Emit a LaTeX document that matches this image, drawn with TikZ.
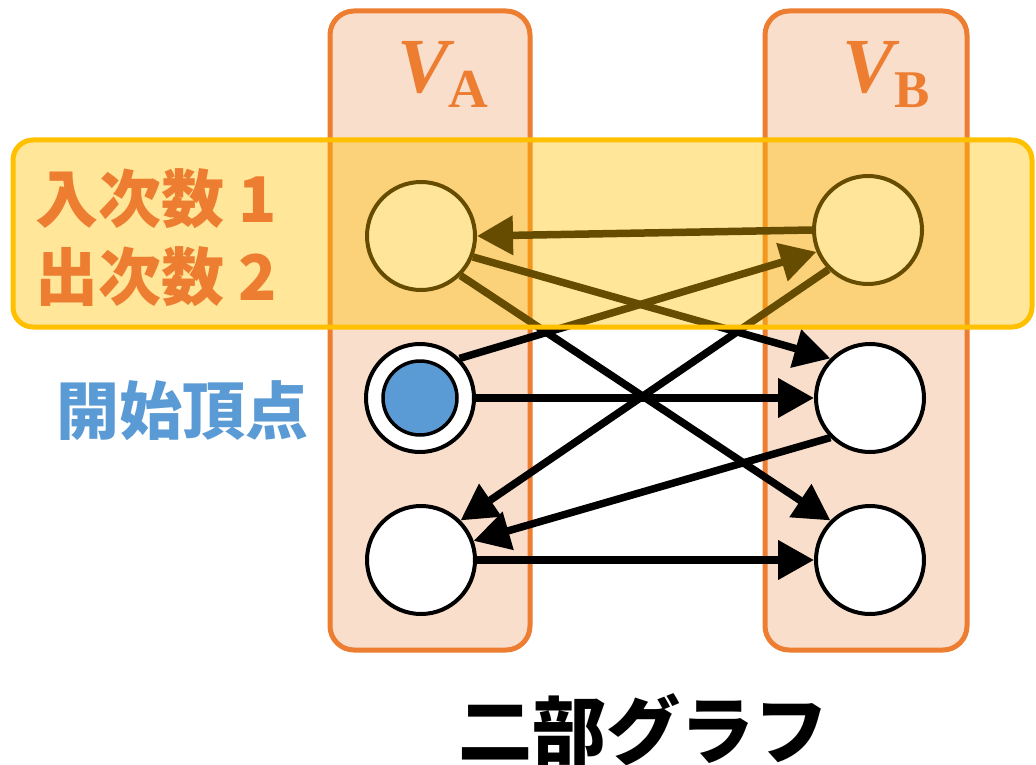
\documentclass[tikz,border=0pt]{standalone}
\usepackage{fontspec}
\setmainfont{Liberation Serif}
\newfontfamily\cjk{Noto Sans CJK JP}
\usetikzlibrary{arrows.meta}

\definecolor{colfill}{HTML}{F9DECC}
\definecolor{colline}{HTML}{ED7D31}
\definecolor{hl}{HTML}{FFC000}
\definecolor{startblue}{HTML}{5B9BD5}

\tikzset{
  column/.style={draw=colline, fill=colfill, line width=5pt, rounded corners=24pt},
  vtx/.style={circle, draw=black, line width=4pt, fill=white, minimum size=108pt, inner sep=0pt},
  startdot/.style={circle, draw=black, line width=3.5pt, fill=startblue, minimum size=74pt, inner sep=0pt},
  edge/.style={line width=7.5pt, -{Triangle[length=36pt,width=38pt]}},
  hlbox/.style={draw=hl, line width=5pt, fill=hl, fill opacity=0.4, rounded corners=20pt},
  vlabel/.style={text=colline, inner sep=0pt, anchor=base west},
  cjklabel/.style={inner sep=0pt, anchor=base west},
}

\begin{document}
\begin{tikzpicture}[x=1pt, y=-1pt]
  \useasboundingbox (0,0) rectangle (1036,765);

  % the two vertex sets
  \draw[column] (330,11) rectangle (530,650);
  \draw[column] (765,11) rectangle (967,650);

  \node[vlabel] (va) at (397,93) {\fontsize{78}{78}\selectfont\bfseries\itshape V\kern-1pt\raisebox{-15pt}{\fontsize{55}{55}\selectfont\upshape A}};
  \node[vlabel] (vb) at (842,93) {\fontsize{78}{78}\selectfont\bfseries\itshape V\kern0pt\raisebox{-15pt}{\fontsize{53}{53}\selectfont\upshape B}};

  % vertices
  \node[vtx] (a1) at (421,236) {};
  \node[vtx] (a2) at (420,398) {};
  \node[vtx] (a3) at (421,560) {};
  \node[vtx] (b1) at (868,230) {};
  \node[vtx] (b2) at (870,398) {};
  \node[vtx] (b3) at (870,560) {};
  \node[startdot] (s) at (a2) {};

  % directed edges
  \draw[edge] (b1.west) -- (a1.east);
  \draw[edge] (a1.-22) -- (b2.135);
  \draw[edge] (a1.-45) -- (b3.135);
  \draw[edge] (a2.45) -- (b1.203);
  \draw[edge] (a2.east) -- (b2.west);
  \draw[edge] (b1.225) -- (a3.45);
  \draw[edge] (b2.225) -- (a3.20);
  \draw[edge] (a3.east) -- (b3.west);

  % highlighted row
  \draw[hlbox] (13,140) rectangle (1032,327);

  % labels
  \node[cjklabel, text=colline, font=\cjk\bfseries\fontsize{63}{63}\selectfont] (in) at (35,222) {入次数 1};
  \node[cjklabel, text=colline, font=\cjk\bfseries\fontsize{63}{63}\selectfont] (out) at (35,300) {出次数 2};
  \node[cjklabel, text=startblue, font=\cjk\bfseries\fontsize{63}{63}\selectfont] (start) at (56,434) {開始頂点};
  \node[cjklabel, text=black, text depth=0pt, font=\cjk\bfseries\fontsize{74}{74}\selectfont] (title) at (458,758) {二部グラフ};
\end{tikzpicture}
\end{document}
